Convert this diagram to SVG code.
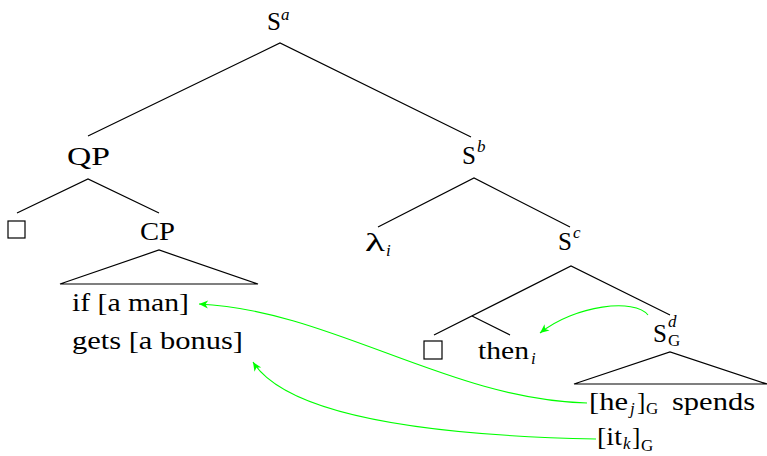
<svg xmlns="http://www.w3.org/2000/svg" width="767" height="456" viewBox="0 0 767 456">
<style>
text{font-family:"Liberation Serif","Times New Roman",serif;font-size:25px;fill:#000}
.s{font-size:17px}
.i{font-style:italic}
.e{stroke:#000;stroke-width:1.2;fill:none}
.g{stroke:#00ff00;stroke-width:1.1;fill:none;marker-end:url(#ah)}
.box{stroke:#000;stroke-width:1.2;fill:none}
</style>
<defs>
<marker id="ah" viewBox="-10 -5 12 10" refX="0" refY="0" markerWidth="12" markerHeight="10" markerUnits="userSpaceOnUse" orient="auto">
<path d="M0,0 L-9,-4 L-6.5,0 L-9,4 Z" fill="#00ff00"/>
</marker>
</defs>
<g id="edges">
<path class="e" d="M88,136 L280,43 L471,137"/>
<path class="e" d="M17,213 L88,179 L159,213"/>
<path class="e" d="M60,284 L159,250 L258,284 Z"/>
<path class="e" d="M378,227 L474,178 L570,227"/>
<path class="e" d="M434,335 L571,266 L670,315"/>
<path class="e" d="M472,316 L510,335"/>
<path class="e" d="M574,384 L670,352 L767,384 Z"/>
</g>
<g id="Sa"><text x="267" y="30">S</text><text class="s i" x="281" y="20">a</text></g>
<g id="QP"><text x="67" y="165" textLength="43" lengthAdjust="spacingAndGlyphs">QP</text></g>
<g id="box1"><rect class="box" x="8" y="221" width="17" height="17"/></g>
<g id="CP"><text x="140" y="240" textLength="35" lengthAdjust="spacingAndGlyphs">CP</text></g>
<g id="CPtext">
<text x="72" y="311" textLength="117" lengthAdjust="spacingAndGlyphs">if [a man]</text>
<text x="72" y="349" textLength="171" lengthAdjust="spacingAndGlyphs">gets [a bonus]</text>
</g>
<g id="Sb"><text x="462" y="164">S</text><text class="s i" x="477" y="152">b</text></g>
<g id="lambda"><text x="365" y="251" textLength="20" lengthAdjust="spacingAndGlyphs">λ</text><text class="s i" x="386" y="256">i</text></g>
<g id="Sc"><text x="558" y="250">S</text><text class="s i" x="573" y="238">c</text></g>
<g id="box2"><rect class="box" x="424" y="341" width="18" height="18"/></g>
<g id="then"><text x="478" y="359" textLength="51" lengthAdjust="spacingAndGlyphs">then</text><text class="s i" x="531" y="364">i</text></g>
<g id="Sd"><text x="653" y="342">S</text><text class="s i" x="668" y="327">d</text><text class="s" x="668" y="346">G</text></g>
<g id="Sdtext">
<text x="589" y="410" textLength="39" lengthAdjust="spacingAndGlyphs">[he</text><text class="s i" x="630" y="414">j</text><text x="637" y="410">]</text><text class="s" x="646" y="414">G</text>
<text x="672" y="410" textLength="83" lengthAdjust="spacingAndGlyphs">spends</text>
<text x="597" y="445" textLength="25" lengthAdjust="spacingAndGlyphs">[it</text><text class="s i" x="623" y="449">k</text><text x="632" y="445">]</text><text class="s" x="641" y="451">G</text>
</g>
<g id="arrows">
<path class="g" d="M648,315 C635,298 575,305 540,333"/>
<path class="g" d="M587,403 C450,400 330,310 199,304"/>
<path class="g" d="M596,439 C450,436 290,420 253,362"/>
</g>
</svg>
